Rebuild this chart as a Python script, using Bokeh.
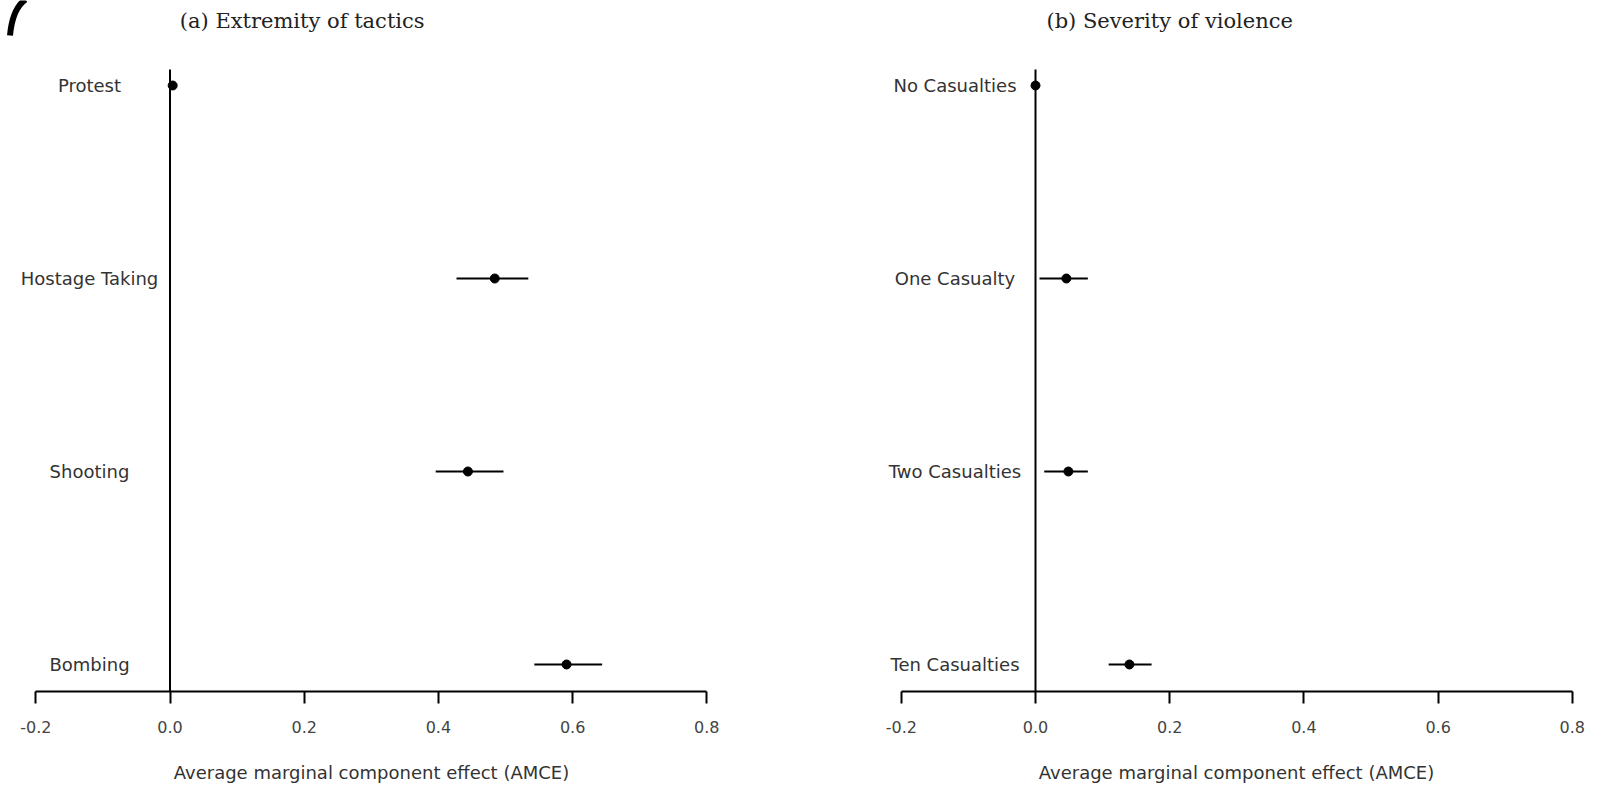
import math
from bokeh.plotting import figure
from bokeh.layouts import row
from bokeh.models import FixedTicker, Range1d, NumeralTickFormatter
from bokeh.core.properties import value
from bokeh.embed import file_html
from bokeh.resources import INLINE

# ---------------- data ----------------
tactics = ["Protest", "Hostage Taking", "Shooting", "Bombing"]
tactics_est = [0.004, 0.484, 0.444, 0.591]
tactics_lo = [float("nan"), 0.427, 0.396, 0.543]
tactics_hi = [float("nan"), 0.534, 0.497, 0.644]

casualties = ["No Casualties", "One Casualty", "Two Casualties", "Ten Casualties"]
casualties_est = [0.0, 0.046, 0.049, 0.140]
casualties_lo = [float("nan"), 0.006, 0.013, 0.109]
casualties_hi = [float("nan"), 0.078, 0.078, 0.173]

tick_values = [-0.2, 0.0, 0.2, 0.4, 0.6, 0.8]
axis_title = "Average marginal component effect (AMCE)"
panel_titles = ["(a) Extremity of tactics", "(b) Severity of violence"]

# ---------------- layout constants (pixels) ----------------
SCALE_X = 671.0      # px per unit of AMCE
UNIT_Y = 193.0       # px between rows
FRAME_TOP = 0        # page y of frame top
AXIS_Y = 691         # page y of the x axis line
LOW_ROW_Y = 664      # page y of the lowest row
FRAME_H = AXIS_Y - FRAME_TOP
TITLE_PAGE_Y = 20
ZERO_TOP_PAGE_Y = 69


def make_panel(cats, est, lo, hi, title, frame_left, border_left, width, zero_page,
               title_x, arc=False):
    n = len(cats)
    ys = [n - i for i in range(n)]

    def to_y(py):
        return 1 + (LOW_ROW_Y - py) / UNIT_Y

    def to_x(px):
        return (px - zero_page) / SCALE_X

    y0 = to_y(AXIS_Y)
    y1 = to_y(FRAME_TOP)
    p = figure(frame_width=width, frame_height=FRAME_H,
               x_range=Range1d(to_x(frame_left), to_x(frame_left + width)),
               y_range=Range1d(y0, y1),
               y_axis_location=None, toolbar_location=None,
               output_backend="svg", min_border_left=border_left, min_border_right=0,
               min_border_top=0, min_border_bottom=0,
               background_fill_color="white", border_fill_color="white")
    p.outline_line_color = None
    p.xgrid.visible = False
    p.ygrid.visible = False

    ax = p.xaxis[0]
    ax.ticker = FixedTicker(ticks=tick_values)
    ax.formatter = NumeralTickFormatter(format="0.0")
    ax.bounds = (min(tick_values), max(tick_values))
    ax.axis_line_width = 2
    ax.axis_line_color = "black"
    ax.major_tick_line_width = 2
    ax.major_tick_line_color = "black"
    ax.major_tick_out = 12
    ax.major_tick_in = 0
    ax.minor_tick_out = 0
    ax.minor_tick_in = 0
    ax.major_label_standoff = 17
    ax.major_label_text_font = "DejaVu Sans"
    ax.major_label_text_font_size = "16px"
    ax.major_label_text_color = "#444444"
    ax.axis_label = axis_title
    ax.axis_label_standoff = 26
    ax.axis_label_text_font = "DejaVu Sans"
    ax.axis_label_text_font_size = "18px"
    ax.axis_label_text_font_style = "normal"
    ax.axis_label_text_color = "#333333"

    # zero reference line
    p.segment(x0=[0], y0=[y0], x1=[0], y1=[to_y(ZERO_TOP_PAGE_Y)],
              line_color="black", line_width=2)

    # confidence intervals and point estimates
    p.segment(x0=lo, y0=ys, x1=hi, y1=ys, line_color="black", line_width=2.2)
    p.scatter(x=est, y=ys, size=9, color="black")

    # category labels
    p.text(x=[-0.12] * n, y=ys, text=cats, text_align="center",
           text_baseline="middle", text_font=value("DejaVu Sans"),
           text_font_size="18px", text_color="#333333")

    # panel title
    p.text(x=[title_x], y=[to_y(TITLE_PAGE_Y)], text=[title], text_align="center",
           text_baseline="middle", text_font=value("DejaVu Serif"),
           text_font_size="21px", text_color="#222222")

    if arc:
        p.quadratic(x0=[to_x(9.5)], y0=[to_y(35)], x1=[to_x(25)], y1=[to_y(-1)],
                    cx=[to_x(12)], cy=[to_y(8)], line_color="black", line_width=6)
    return p


p1 = make_panel(tactics, tactics_est, tactics_lo, tactics_hi, panel_titles[0],
                frame_left=0, border_left=0, width=742, zero_page=169.5,
                title_x=0.197, arc=True)
p2 = make_panel(casualties, casualties_est, casualties_lo, casualties_hi, panel_titles[1],
                frame_left=876, border_left=134, width=720, zero_page=1035,
                title_x=0.20)

layout = row(p1, p2, spacing=0)
open("out.html", "w").write(file_html(layout, INLINE))
